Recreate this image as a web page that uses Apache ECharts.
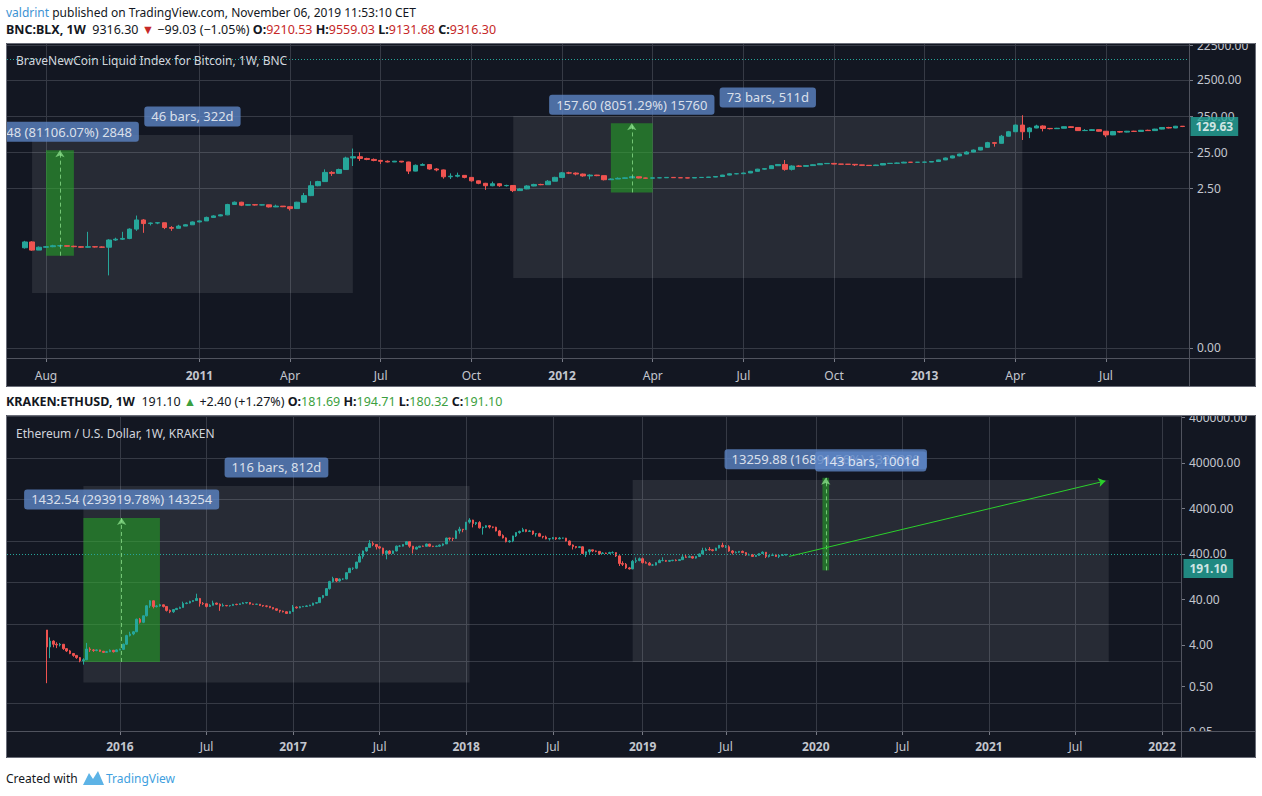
<!DOCTYPE html>
<html>
<head>
<meta charset="utf-8">
<script src="https://cdn.jsdelivr.net/npm/echarts@6/dist/echarts.min.js"></script>
<style>
html,body{margin:0;padding:0;background:#ffffff;}
#chart{width:1262px;height:796px;}
</style>
</head>
<body>
<div id="chart"></div>
<script>
// ======================= DATA =======================
// BNC:BLX weekly candles (week starts), first bar 2010-07-12
const btcStart = '2010-07-12';
const btcFirstOpen = 0.058;
const btcClose = [
  0.084, 0.050, 0.060, 0.062, 0.066, 0.066, 0.064, 0.062, 0.060, 0.062,
  0.061, 0.060, 0.095, 0.100, 0.105, 0.190, 0.340, 0.270, 0.280, 0.285,
  0.210, 0.200, 0.230, 0.250, 0.300, 0.320, 0.400, 0.440, 0.470, 0.910,
  1.05, 0.87, 0.90, 0.88, 0.89, 0.78, 0.82, 0.79, 0.70, 1.05,
  1.60, 3.00, 3.90, 7.00, 6.60, 8.40, 17.5, 19.0, 17.0, 16.0,
  15.0, 14.2, 13.6, 14.3, 13.6, 7.6, 11.0, 11.5, 8.7, 8.2,
  5.3, 5.5, 5.8, 5.1, 4.1, 3.5, 3.0, 3.4, 3.0, 3.05,
  2.20, 2.45, 2.95, 3.25, 3.20, 4.00, 5.10, 6.80, 6.70, 6.30,
  5.60, 5.90, 5.70, 4.40, 4.60, 4.80, 4.95, 5.30, 4.90, 4.85,
  4.95, 4.98, 5.10, 5.00, 4.95, 4.90, 5.05, 5.10, 5.20, 5.40,
  5.90, 6.40, 6.45, 6.75, 7.50, 8.60, 8.90, 10.7, 11.6, 8.5,
  10.5, 10.3, 10.8, 11.4, 12.2, 12.4, 11.9, 11.8, 11.7, 11.3,
  11.0, 10.8, 11.2, 12.3, 12.5, 12.7, 13.4, 13.3, 13.4, 13.5,
  14.0, 15.5, 17.5, 20.0, 22.5, 25.5, 29.0, 34.5, 46.5, 44.5,
  70, 93, 142, 93, 118, 134, 115, 113, 116, 128,
  122, 100, 101, 106, 96, 76, 94, 91, 96, 95,
  102, 100, 110, 122, 118, 132, 129.63
];
const btcHigh = [
  0.090, 0.088, 0.063, 0.065, 0.070, 0.068, 0.067, 0.066, 0.064, 0.160,
  0.064, 0.063, 0.100, 0.110, 0.160, 0.200, 0.450, 0.360, 0.290, 0.295,
  0.285, 0.230, 0.250, 0.260, 0.310, 0.330, 0.420, 0.460, 0.490, 0.950,
  1.10, 1.08, 0.93, 0.92, 0.91, 0.90, 0.90, 0.82, 0.80, 1.08,
  1.90, 4.00, 4.10, 8.50, 7.60, 8.90, 19.0, 31.9, 25.0, 17.8,
  17.0, 15.6, 15.0, 14.6, 14.4, 13.8, 11.6, 12.5, 11.6, 9.2,
  8.4, 6.6, 6.9, 5.9, 5.2, 4.2, 3.6, 3.9, 3.5, 3.2,
  3.10, 2.60, 3.10, 3.40, 3.40, 4.30, 5.30, 7.20, 7.30, 7.00,
  6.50, 6.20, 6.00, 5.70, 4.80, 5.10, 5.10, 5.45, 5.30, 5.00,
  5.05, 5.05, 5.20, 5.15, 5.10, 5.00, 5.10, 5.15, 5.25, 5.50,
  6.00, 6.60, 6.70, 6.80, 7.70, 8.80, 9.10, 11.0, 11.9, 15.4,
  11.0, 11.0, 11.1, 11.7, 12.5, 12.6, 12.8, 12.0, 11.9, 11.8,
  11.4, 11.1, 11.4, 12.5, 12.7, 13.1, 13.8, 13.6, 13.6, 13.7,
  14.3, 15.8, 18.0, 20.6, 23.0, 27.0, 30.0, 35.0, 49.0, 48.5,
  76, 98, 147, 266, 125, 145, 140, 118, 119, 130,
  132, 122, 110, 110, 107, 97, 98, 98, 98, 99,
  104, 106, 112, 124, 127, 135, 134
];
const btcLow = [
  0.055, 0.048, 0.050, 0.058, 0.060, 0.062, 0.062, 0.060, 0.058, 0.058,
  0.059, 0.058, 0.010, 0.090, 0.095, 0.100, 0.170, 0.150, 0.240, 0.260,
  0.190, 0.170, 0.200, 0.230, 0.250, 0.290, 0.320, 0.390, 0.430, 0.460,
  0.90, 0.82, 0.85, 0.85, 0.86, 0.75, 0.77, 0.77, 0.62, 0.69,
  1.02, 1.55, 2.90, 3.80, 5.60, 6.50, 8.30, 10.5, 14.5, 15.2,
  14.2, 12.0, 13.2, 13.5, 13.2, 6.3, 7.5, 10.8, 8.3, 7.5,
  4.7, 4.6, 5.1, 4.8, 3.9, 3.3, 2.3, 2.9, 2.8, 2.85,
  2.00, 2.20, 2.40, 2.90, 3.10, 3.20, 4.00, 5.00, 6.30, 5.80,
  5.30, 4.50, 5.50, 4.20, 4.30, 4.60, 4.70, 4.90, 4.80, 4.75,
  4.80, 4.85, 4.95, 4.90, 4.90, 4.85, 4.90, 5.00, 5.05, 5.15,
  5.35, 5.80, 6.20, 6.40, 6.70, 7.40, 8.30, 8.80, 10.6, 7.8,
  7.9, 10.0, 10.2, 10.7, 11.3, 12.0, 11.7, 11.5, 11.4, 10.5,
  10.7, 10.6, 10.7, 11.1, 12.2, 12.3, 12.6, 13.1, 13.2, 13.3,
  13.4, 13.9, 15.3, 17.2, 19.5, 22.1, 25.0, 28.5, 33.5, 36.0,
  44, 69, 92, 55, 62, 116, 95, 108, 111, 115,
  118, 98, 97, 98, 94, 66, 75, 87, 89, 92,
  94, 98, 99, 108, 115, 117, 125
];
const btcCurrentPrice = 9316.30;
const btcLastVisible = 129.63;
const btcPriceTicks = [22500, 2500, 250, 25, 2.5, 0.0001];
const btcTimeTicks = ['2010-08-02','2011-01-03','2011-04-04','2011-07-04','2011-10-03','2012-01-02','2012-04-02','2012-07-02','2012-10-01','2012-12-31','2013-04-01','2013-07-01'];
const btcTimeLabels = ['Aug','2011','Apr','Jul','Oct','2012','Apr','Jul','Oct','2013','Apr','Jul'];
const btcDateRanges = [
  {from:'2010-07-19', to:'2011-06-06', low:0.00327, high:75.7, text:'46 bars, 322d'},
  {from:'2011-11-14', to:'2013-04-08', low:0.00848, high:253.6, text:'73 bars, 511d'}
];
const btcPriceRanges = [
  {from:'2010-08-02', to:'2010-08-30', low:0.03511, high:28.515, text:'28.48 (81106.07%) 2848'},
  {from:'2012-02-20', to:'2012-04-02', low:1.9574, high:159.56, text:'157.60 (8051.29%) 15760'}
];

// KRAKEN:ETHUSD weekly candles, first bar 2015-08-03
const ethStart = '2015-08-03';
const ethFirstOpen = 2.87;
const ethClose = [
  1.12, 1.55, 1.30, 1.25, 1.30, 1.02, 0.90, 0.78, 0.70, 0.62,
  0.52, 0.55, 1.00, 0.95, 0.92, 0.95, 0.88, 0.83, 0.86, 0.93,
  0.86, 0.95, 0.98, 1.30, 2.10, 2.30, 2.60, 5.20, 4.40, 6.30,
  11.0, 14.5, 10.5, 10.9, 11.6, 10.6, 8.5, 7.9, 8.9, 9.5,
  10.0, 12.5, 12.8, 14.0, 14.7, 16.5, 12.5, 12.3, 10.6, 11.3,
  12.8, 12.0, 10.9, 11.2, 11.0, 11.2, 11.9, 11.8, 12.3, 12.9,
  13.2, 12.1, 11.9, 12.0, 11.2, 10.9, 10.7, 10.0, 9.3, 8.6,
  8.2, 7.9, 7.2, 8.0, 10.2, 9.8, 10.4, 10.6, 10.9, 11.4,
  12.7, 13.1, 17.3, 19.5, 28.5, 42, 50, 43.5, 48.5, 48.5,
  69, 88, 88.5, 124, 170, 230, 280, 350, 330, 290,
  270, 200, 230, 200, 230, 300, 300, 330, 385, 300,
  255, 282, 300, 298, 338, 300, 296, 300, 318, 340,
  470, 462, 460, 700, 770, 750, 1140, 1280, 1050, 1110,
  830, 860, 935, 870, 860, 700, 540, 475, 385, 400,
  530, 640, 680, 750, 680, 700, 590, 600, 520, 500,
  450, 455, 480, 450, 470, 470, 400, 320, 295, 280,
  290, 200, 220, 245, 230, 225, 200, 205, 200, 210,
  210, 175, 115, 110, 90, 85, 130, 135, 150, 120,
  117, 105, 105, 120, 135, 135, 130, 135, 138, 135,
  142, 165, 162, 168, 155, 170, 195, 235, 250, 245,
  235, 270, 315, 290, 290, 230, 210, 215, 225, 210,
  185, 185, 170, 180, 200, 215, 170, 180, 185, 170,
  180, 181.69, 191.10
];
const ethHigh = [
  2.87, 1.90, 1.62, 1.45, 1.40, 1.32, 1.05, 0.95, 0.80, 0.72,
  0.64, 0.60, 1.40, 1.10, 1.00, 0.98, 0.96, 0.90, 0.90, 0.98,
  0.95, 0.98, 1.02, 1.35, 2.20, 2.60, 2.70, 5.40, 5.60, 6.40,
  11.5, 15.0, 14.8, 11.5, 12.2, 11.8, 10.8, 8.9, 9.0, 9.8,
  10.5, 13.8, 13.3, 14.5, 15.0, 21.5, 17.0, 13.5, 12.5, 12.0,
  14.6, 13.0, 12.5, 12.5, 11.5, 11.4, 12.2, 12.3, 12.5, 13.5,
  13.4, 13.3, 12.3, 12.3, 12.1, 11.4, 11.2, 10.8, 10.1, 9.4,
  8.7, 8.4, 8.0, 8.3, 11.5, 10.6, 10.8, 10.9, 11.3, 11.6,
  13.0, 13.5, 17.5, 20.0, 29.0, 44, 55, 51, 50, 50,
  70, 90, 92, 126, 200, 235, 285, 420, 390, 335,
  300, 275, 240, 240, 235, 310, 320, 335, 395, 390,
  305, 295, 305, 310, 345, 340, 305, 310, 330, 350,
  480, 480, 480, 720, 880, 780, 1150, 1420, 1300, 1150,
  1200, 890, 960, 970, 890, 880, 740, 580, 490, 420,
  535, 645, 710, 830, 760, 740, 705, 620, 630, 525,
  540, 470, 500, 490, 500, 480, 475, 410, 330, 300,
  300, 295, 220, 250, 245, 235, 230, 215, 210, 220,
  225, 212, 180, 130, 118, 95, 140, 160, 160, 160,
  130, 125, 112, 124, 145, 162, 140, 140, 140, 145,
  145, 185, 185, 180, 175, 172, 200, 275, 275, 285,
  255, 275, 320, 365, 320, 315, 240, 225, 228, 235,
  215, 200, 195, 185, 200, 225, 215, 185, 200, 195,
  190, 195, 194.71
];
const ethLow = [
  0.15, 0.60, 1.10, 1.05, 1.15, 0.95, 0.85, 0.75, 0.65, 0.58,
  0.48, 0.42, 0.54, 0.85, 0.85, 0.88, 0.85, 0.80, 0.80, 0.84,
  0.82, 0.85, 0.93, 0.95, 1.25, 2.00, 2.15, 2.55, 4.10, 4.20,
  6.10, 9.80, 9.50, 10.0, 10.5, 10.0, 8.0, 7.3, 7.4, 8.8,
  9.3, 9.9, 12.0, 12.5, 13.5, 14.5, 10.5, 11.5, 10.0, 10.3,
  11.2, 11.5, 8.3, 10.5, 10.7, 10.5, 11.0, 11.3, 11.5, 12.2,
  12.4, 11.8, 11.6, 11.7, 10.9, 10.4, 10.1, 9.6, 9.0, 8.3,
  7.5, 7.6, 7.0, 7.1, 7.9, 9.4, 9.6, 10.2, 10.5, 10.8,
  11.2, 12.4, 13.0, 16.5, 19.2, 27, 40, 41, 42, 46,
  48, 68, 80, 84, 122, 150, 220, 278, 300, 250,
  255, 180, 145, 190, 195, 225, 285, 295, 325, 275,
  200, 250, 275, 290, 295, 290, 285, 285, 290, 300,
  340, 410, 400, 450, 600, 650, 740, 1050, 850, 970,
  800, 570, 820, 800, 810, 680, 520, 460, 370, 365,
  375, 500, 600, 665, 650, 660, 560, 510, 510, 460,
  440, 410, 440, 425, 440, 455, 390, 310, 250, 265,
  270, 195, 165, 195, 215, 215, 185, 195, 195, 195,
  200, 165, 100, 100, 85, 82, 84, 118, 130, 115,
  115, 103, 100, 103, 118, 130, 125, 125, 130, 130,
  132, 140, 158, 160, 150, 150, 165, 190, 230, 235,
  225, 235, 265, 280, 270, 220, 190, 200, 205, 205,
  175, 180, 165, 165, 175, 195, 155, 160, 175, 165,
  155, 175, 180.32
];
const ethCurrentPrice = 191.10;
const ethGridTicks = [400000, 40000, 4000, 400, 40, 4, 0.5, 0.05];
const ethLabelTicks = [400000, 40000, 4000, 400, 40, 4, 0.5, 0.05];
const ethTimeTicks = ['2016-01-04','2016-07-04','2017-01-02','2017-07-03','2018-01-01','2018-07-02','2019-01-07','2019-07-01','2020-01-06','2020-07-06','2021-01-04','2021-07-05','2022-01-03'];
const ethTimeLabels = ['2016','Jul','2017','Jul','2018','Jul','2019','Jul','2020','Jul','2021','Jul','2022'];
const ethDateRanges = [
  {from:'2015-10-19', to:'2018-01-08', low:0.156, high:8460, text:'116 bars, 812d'},
  {from:'2018-12-17', to:'2021-09-13', low:0.485, high:11800, text:'143 bars, 1001d'}
];
const ethPriceRanges = [
  {from:'2015-10-19', to:'2016-03-28', low:0.48739, high:1433.03, text:'1432.54 (293919.78%) 143254'},
  {from:'2020-01-20', to:'2020-02-03', low:78.5, high:13338.4, text:'13259.88 (16891.56%) 1325988'}
];
const ethTrend = {from:'2019-11-11', fromValue:170, to:'2021-09-06', toValue:11200};

// ======================= HELPERS / LAYOUT =======================
const DAY = 86400000, WEEK = 7 * DAY;
const T = s => Date.parse(s + 'T00:00:00Z');
function candles(start, open0, close, high, low) {
  const t0 = T(start);
  return close.map((c, i) => [t0 + i * WEEK, i === 0 ? open0 : close[i - 1], c, low[i], high[i]]);
}
const btcXMin = T('2010-08-02') - 5.592 * WEEK, btcXMax = T('2010-08-02') + 163.9 * WEEK;
const ethXMin = T('2016-01-04') - 33.94 * WEEK, ethXMax = T('2016-01-04') + 318.7 * WEEK;

const UP = '#26a69a', DOWN = '#ef5350';
const GRID_LINE = '#363a45';
const AXIS_TEXT = '#c3c6ce';
const FONT = 'Noto Sans';
const LABEL_BG = '#5d84c4';
const GREY_AREA = 'rgba(255,255,255,0.085)';
const GREEN_AREA = 'rgba(36,170,36,0.55)';

function timeAxis(gridIndex, min, max, ticks, labels, margin) {
  const tv = ticks.map(T);
  const map = {};
  tv.forEach((t, i) => { map[t] = labels[i]; });
  return {
    gridIndex, type: 'value', min, max, position: 'bottom',
    axisLine: {show: false},
    axisTick: {show: true, length: 4, customValues: tv, lineStyle: {color: '#787b86'}},
    axisLabel: {
      customValues: tv, margin, color: AXIS_TEXT, fontSize: 12, fontFamily: FONT,
      formatter: v => { const s = map[v] || ''; return /^\d{4}$/.test(s) ? '{y|' + s + '}' : s; },
      rich: {y: {fontWeight: 'bold', color: AXIS_TEXT, fontSize: 12, fontFamily: FONT}}
    },
    splitLine: {show: true, lineStyle: {color: GRID_LINE, width: 1}}
  };
}

function areas(dateRanges, priceRanges) {
  const out = [];
  dateRanges.forEach(r => out.push([{coord: [T(r.from), r.low], itemStyle: {color: GREY_AREA}}, {coord: [T(r.to), r.high]}]));
  priceRanges.forEach(r => out.push([{coord: [T(r.from), r.low], itemStyle: {color: GREEN_AREA}}, {coord: [T(r.to), r.high]}]));
  return out;
}
function rangeArrows(priceRanges) {
  return priceRanges.map(r => {
    const m = (T(r.from) + T(r.to)) / 2;
    return [{coord: [m, r.low], lineStyle: {type: [4, 3], color: 'rgba(140,225,140,0.75)', width: 1}}, {coord: [m, r.high]}];
  });
}
function labelPoints(dateRanges, priceRanges) {
  const pts = [];
  priceRanges.forEach(r => pts.push({name: r.text, value: [(T(r.from) + T(r.to)) / 2, r.high]}));
  dateRanges.forEach(r => pts.push({name: r.text, value: [(T(r.from) + T(r.to)) / 2, r.high]}));
  return pts;
}
const labelStyle = {
  show: true, position: 'top', distance: 8, formatter: '{b}', color: '#ffffff',
  fontSize: 13, fontFamily: FONT, backgroundColor: LABEL_BG, padding: [3, 7], borderRadius: 3, lineHeight: 14
};
const candleStyle = {color: UP, color0: DOWN, borderColor: UP, borderColor0: DOWN, borderWidth: 1};

// ======================= OPTION =======================
const option = {
  animation: false,
  backgroundColor: '#ffffff',
  textStyle: {fontFamily: FONT},
  grid: [
    {left: 7, top: 44, width: 1182, height: 314, show: false},
    {left: 7, top: 416, width: 1174, height: 315, show: false},
    {left: 7, top: 406, width: 1174, height: 335, show: false}
  ],
  xAxis: [
    timeAxis(0, btcXMin, btcXMax, btcTimeTicks, btcTimeLabels, 11),
    timeAxis(1, ethXMin, ethXMax, ethTimeTicks, ethTimeLabels, 9),
    {gridIndex: 2, type: 'value', min: ethXMin, max: ethXMax, show: false}
  ],
  yAxis: [
    {
      gridIndex: 0, type: 'log', logBase: 10, position: 'right', min: 5.23e-5, max: 24660,
      axisLine: {show: false},
      axisTick: {show: true, length: 4, customValues: btcPriceTicks, lineStyle: {color: '#787b86'}},
      axisLabel: {customValues: btcPriceTicks, formatter: v => Number(v).toFixed(2), color: AXIS_TEXT, fontSize: 12, fontFamily: FONT, margin: 8},
      splitLine: {show: true, lineStyle: {color: GRID_LINE, width: 1}}
    },
    {
      gridIndex: 1, type: 'log', logBase: 10, position: 'right', min: 0.01057, max: 411000,
      axisLine: {show: false},
      axisTick: {show: false, customValues: ethGridTicks},
      axisLabel: {show: false},
      splitLine: {show: true, lineStyle: {color: GRID_LINE, width: 1}}
    },
    {
      gridIndex: 2, type: 'log', logBase: 10, position: 'right', min: 0.0310, max: 716000,
      axisLine: {show: false},
      axisTick: {show: true, length: 4, customValues: ethLabelTicks, lineStyle: {color: '#787b86'}},
      axisLabel: {customValues: ethLabelTicks, formatter: v => Number(v).toFixed(2), color: AXIS_TEXT, fontSize: 12, fontFamily: FONT, margin: 8},
      splitLine: {show: false}
    }
  ],
  series: [
    {
      name: 'BNC:BLX', type: 'candlestick', xAxisIndex: 0, yAxisIndex: 0,
      data: candles(btcStart, btcFirstOpen, btcClose, btcHigh, btcLow),
      encode: {x: 0, y: [1, 2, 3, 4]}, barWidth: 5, itemStyle: candleStyle, z: 2,
      markLine: {silent: true, symbol: ['none', 'none'], label: {show: false},
        lineStyle: {type: [1, 2], color: UP, width: 1}, data: [{yAxis: btcCurrentPrice}]}
    },
    {
      name: 'btcDrawings', type: 'line', xAxisIndex: 0, yAxisIndex: 0, data: [], silent: true, z: 3,
      markArea: {silent: true, label: {show: false}, data: areas(btcDateRanges, btcPriceRanges)},
      markLine: {silent: true, symbol: ['none', 'arrow'], symbolSize: 7, label: {show: false}, data: rangeArrows(btcPriceRanges)}
    },
    {
      name: 'btcLabels', type: 'scatter', xAxisIndex: 0, yAxisIndex: 0, symbolSize: 1, silent: true, z: 6, clip: false,
      itemStyle: {color: 'rgba(0,0,0,0)'}, label: labelStyle, data: labelPoints(btcDateRanges, btcPriceRanges)
    },
    {
      name: 'btcLast', type: 'scatter', xAxisIndex: 0, yAxisIndex: 0, symbolSize: 1, silent: true, z: 7, clip: false,
      itemStyle: {color: 'rgba(0,0,0,0)'},
      label: {show: true, position: 'right', distance: 1, formatter: p => p.value[1].toFixed(2), color: '#ffffff',
        fontWeight: 'bold', fontSize: 12, fontFamily: FONT, backgroundColor: UP, padding: [3, 5], lineHeight: 13},
      data: [[btcXMax, btcLastVisible]]
    },
    {
      name: 'KRAKEN:ETHUSD', type: 'candlestick', xAxisIndex: 1, yAxisIndex: 1,
      data: candles(ethStart, ethFirstOpen, ethClose, ethHigh, ethLow),
      encode: {x: 0, y: [1, 2, 3, 4]}, barWidth: 2, itemStyle: candleStyle, z: 2,
      markLine: {silent: true, symbol: ['none', 'none'], label: {show: false},
        lineStyle: {type: [1, 2], color: UP, width: 1}, data: [{yAxis: ethCurrentPrice}]}
    },
    {
      name: 'ethDrawings', type: 'line', xAxisIndex: 1, yAxisIndex: 1, data: [], silent: true, z: 3,
      markArea: {silent: true, label: {show: false}, data: areas(ethDateRanges, ethPriceRanges)},
      markLine: {silent: true, symbol: ['none', 'arrow'], symbolSize: 7, label: {show: false},
        data: rangeArrows(ethPriceRanges).concat([[
          {coord: [T(ethTrend.from), ethTrend.fromValue], lineStyle: {type: 'solid', color: '#2bd12b', width: 1}},
          {coord: [T(ethTrend.to), ethTrend.toValue]}
        ]])}
    },
    {
      name: 'ethLabels', type: 'scatter', xAxisIndex: 1, yAxisIndex: 1, symbolSize: 1, silent: true, z: 6, clip: false,
      itemStyle: {color: 'rgba(0,0,0,0)'}, label: labelStyle, data: labelPoints(ethDateRanges, ethPriceRanges)
    },
    {
      name: 'ethLast', type: 'scatter', xAxisIndex: 2, yAxisIndex: 2, symbolSize: 1, silent: true, z: 7, clip: false,
      itemStyle: {color: 'rgba(0,0,0,0)'},
      label: {show: true, position: 'right', distance: 2, formatter: p => p.value[1].toFixed(2), color: '#ffffff',
        fontWeight: 'bold', fontSize: 12, fontFamily: FONT, backgroundColor: UP, padding: [3, 6], lineHeight: 13},
      data: [[ethXMax, ethCurrentPrice]]
    }
  ],
  graphic: {elements: [
    // panel backgrounds
    {type: 'rect', z: -100, silent: true, shape: {x: 6, y: 43, width: 1250, height: 344}, style: {fill: '#131722'}},
    {type: 'rect', z: -100, silent: true, shape: {x: 6, y: 415, width: 1250, height: 343}, style: {fill: '#131722'}},
    // covers (clip overflowing texts)
    {type: 'rect', z: 50, silent: true, shape: {x: 0, y: 100, width: 6, height: 60}, style: {fill: '#ffffff'}},
    {type: 'rect', z: 50, silent: true, shape: {x: 1190, y: 30, width: 72, height: 13}, style: {fill: '#ffffff'}},
    {type: 'rect', z: 50, silent: true, shape: {x: 1182, y: 403, width: 80, height: 12}, style: {fill: '#ffffff'}},
    {type: 'rect', z: 50, silent: true, shape: {x: 1182, y: 732, width: 74, height: 26}, style: {fill: '#131722'}},
    // separators and borders
    {type: 'line', z: 60, silent: true, shape: {x1: 6, y1: 358.5, x2: 1256, y2: 358.5}, style: {stroke: '#50535e', lineWidth: 1}},
    {type: 'line', z: 60, silent: true, shape: {x1: 1189.5, y1: 43, x2: 1189.5, y2: 387}, style: {stroke: '#50535e', lineWidth: 1}},
    {type: 'line', z: 60, silent: true, shape: {x1: 6, y1: 731.5, x2: 1256, y2: 731.5}, style: {stroke: '#50535e', lineWidth: 1}},
    {type: 'line', z: 60, silent: true, shape: {x1: 1181.5, y1: 415, x2: 1181.5, y2: 758}, style: {stroke: '#50535e', lineWidth: 1}},
    {type: 'rect', z: 61, silent: true, shape: {x: 6.5, y: 43.5, width: 1249, height: 343}, style: {fill: 'none', stroke: '#6a6d78', lineWidth: 1}},
    {type: 'rect', z: 61, silent: true, shape: {x: 6.5, y: 415.5, width: 1249, height: 342}, style: {fill: 'none', stroke: '#6a6d78', lineWidth: 1}},
    // header texts
    {type: 'text', z: 10, silent: true, x: 6, y: 12, style: {
      text: '{u|valdrint} published on TradingView.com, November 06, 2019 11:53:10 CET',
      fill: '#131722', fontSize: 12, fontFamily: FONT, verticalAlign: 'middle',
      rich: {u: {fill: '#3d93d3', fontSize: 12, fontFamily: FONT}}}},
    {type: 'text', z: 10, silent: true, x: 6, y: 29, style: {
      text: '{b|BNC:BLX, 1W}  9316.30 {r|\u25BC} \u221299.03 (\u22121.05%) {b|O:}{r|9210.53} {b|H:}{r|9559.03} {b|L:}{r|9131.68} {b|C:}{r|9316.30}',
      fill: '#131722', fontSize: 12.5, fontFamily: FONT, verticalAlign: 'middle',
      rich: {b: {fontWeight: 'bold', fill: '#131722', fontSize: 12.5, fontFamily: FONT}, r: {fill: '#c62828', fontSize: 12.5, fontFamily: FONT}}}},
    {type: 'text', z: 10, silent: true, x: 6, y: 401, style: {
      text: '{b|KRAKEN:ETHUSD, 1W}  191.10 {g|\u25B2} +2.40 (+1.27%) {b|O:}{g|181.69} {b|H:}{g|194.71} {b|L:}{g|180.32} {b|C:}{g|191.10}',
      fill: '#131722', fontSize: 12.5, fontFamily: FONT, verticalAlign: 'middle',
      rich: {b: {fontWeight: 'bold', fill: '#131722', fontSize: 12.5, fontFamily: FONT}, g: {fill: '#3c9f40', fontSize: 12.5, fontFamily: FONT}}}},
    // panel titles
    {type: 'text', z: 10, silent: true, x: 16, y: 60, style: {text: 'BraveNewCoin Liquid Index for Bitcoin, 1W, BNC', fill: '#d1d4dc', fontSize: 12, fontFamily: FONT, verticalAlign: 'middle'}},
    {type: 'text', z: 10, silent: true, x: 16, y: 433, style: {text: 'Ethereum / U.S. Dollar, 1W, KRAKEN', fill: '#d1d4dc', fontSize: 12, fontFamily: FONT, verticalAlign: 'middle'}},
    // footer
    {type: 'text', z: 10, silent: true, x: 6, y: 778, style: {text: 'Created with', fill: '#131722', fontSize: 12, fontFamily: FONT, verticalAlign: 'middle'}},
    {type: 'polygon', z: 10, silent: true, shape: {points: [[83, 785], [89, 773], [93, 779], [98, 771], [104, 785]]}, style: {fill: '#5db3e6'}},
    {type: 'text', z: 10, silent: true, x: 106, y: 778, style: {text: 'TradingView', fill: '#3f9fe0', fontSize: 12, fontFamily: FONT, verticalAlign: 'middle'}}
  ]}
};

const chart = echarts.init(document.getElementById('chart'), null, {renderer: 'svg', width: 1262, height: 796});
chart.setOption(option);
</script>
</body>
</html>
